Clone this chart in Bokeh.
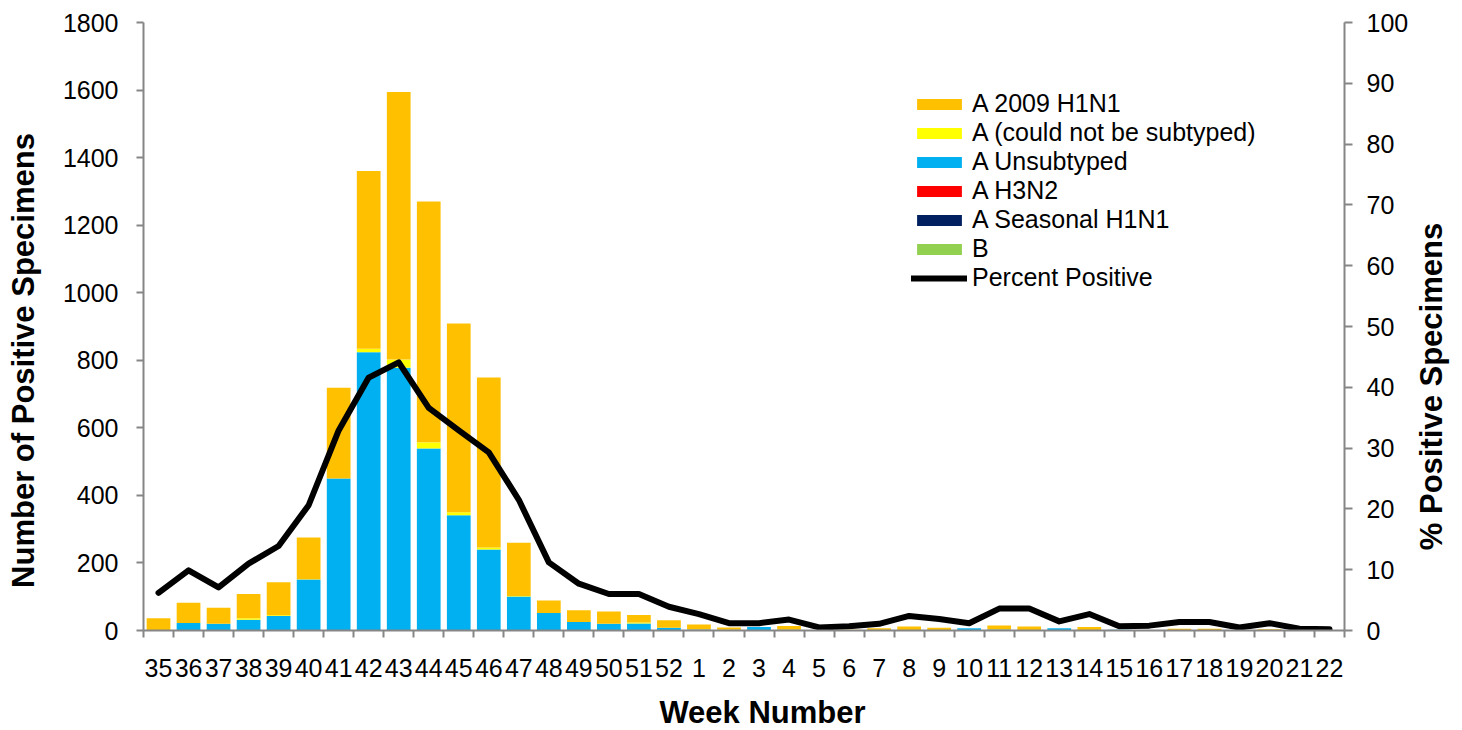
import math
from bokeh.plotting import figure
from bokeh.layouts import row, column
from bokeh.models import (Range1d, LinearAxis, FixedTicker, Legend, LegendItem,
                          Label, ColumnDataSource)
from bokeh.embed import file_html
from bokeh.resources import INLINE

weeks = ["35", "36", "37", "38", "39", "40", "41", "42", "43", "44", "45", "46",
         "47", "48", "49", "50", "51", "52", "1", "2", "3", "4", "5", "6", "7",
         "8", "9", "10", "11", "12", "13", "14", "15", "16", "17", "18", "19",
         "20", "21", "22"]

a_unsubtyped = [0, 22, 20, 32, 43, 151, 450, 824, 778, 539, 341, 240, 101, 52,
                25, 20, 21, 8, 3, 2, 10, 2, 0, 0, 0, 0, 0, 7, 3, 0, 7, 0, 2, 0,
                0, 0, 0, 0, 0, 0]
a_could_not = [0, 0, 0, 4, 2, 1, 0, 10, 24, 18, 9, 6, 1, 0, 0, 0, 3, 0, 0, 0,
               0, 0, 0, 0, 0, 0, 0, 0, 0, 0, 0, 0, 0, 0, 0, 0, 0, 0, 0, 0]
a_2009_h1n1 = [36, 60, 47, 72, 98, 123, 269, 526, 792, 713, 559, 503, 158, 37,
               35, 36, 22, 22, 15, 7, 0, 11, 0, 2, 7, 12, 8, 0, 12, 12, 0, 10,
               0, 0, 5, 5, 0, 4, 0, 0]
a_h3n2 = [0] * 40
a_seasonal_h1n1 = [0] * 40
b_flu = [0] * 40
pct_positive = [6.2, 9.9, 7.1, 11.0, 13.9, 20.6, 32.9, 41.6, 44.1, 36.6, 32.9,
                29.3, 21.5, 11.2, 7.7, 6.0, 6.0, 3.9, 2.7, 1.2, 1.2, 1.8, 0.5,
                0.7, 1.1, 2.4, 1.9, 1.2, 3.6, 3.6, 1.5, 2.7, 0.7, 0.8, 1.4, 1.4,
                0.5, 1.2, 0.3, 0.2]

left_ticks = [0, 200, 400, 600, 800, 1000, 1200, 1400, 1600, 1800]
right_ticks = [0, 10, 20, 30, 40, 50, 60, 70, 80, 90, 100]

FONT = "Liberation Sans"
AXIS_GRAY = "#868686"

# layout geometry (page pixels)
LEFT_W, RIGHT_W, BOTTOM_H = 50, 51, 43
MAIN_W = 1462 - LEFT_W - RIGHT_W
MAIN_H = 730 - BOTTOM_H

xs = list(range(1, len(weeks) + 1))
src = ColumnDataSource(dict(x=xs, unsub=a_unsubtyped, could=a_could_not,
                            h1n1=a_2009_h1n1, h3n2=a_h3n2,
                            seasonal=a_seasonal_h1n1, b=b_flu,
                            pct=pct_positive))

p = figure(width=MAIN_W, height=MAIN_H, output_backend="svg",
           toolbar_location=None,
           x_range=Range1d(0.5, len(weeks) + 0.5), y_range=Range1d(0, 1800),
           min_border_left=143 - LEFT_W, min_border_right=MAIN_W + LEFT_W - 1347,
           min_border_top=22, min_border_bottom=MAIN_H - 630)
p.outline_line_color = None
p.xgrid.visible = False
p.ygrid.visible = False
p.extra_y_ranges = {"pct": Range1d(0, 100)}

colors = {"unsub": "#00B0F0", "could": "#FFFF00", "h1n1": "#FFC000",
          "h3n2": "#FF0000", "seasonal": "#002060", "b": "#92D050"}
stackers = ["unsub", "could", "h1n1", "h3n2", "seasonal", "b"]
rs = p.vbar_stack(stackers, x="x", width=0.79, source=src,
                  fill_color=[colors[s] for s in stackers], line_color=None)
rmap = dict(zip(stackers, rs))

line = p.line("x", "pct", source=src, y_range_name="pct", line_color="black",
              line_width=6, line_join="round", line_cap="round")


def style_axis(ax):
    ax.axis_line_color = AXIS_GRAY
    ax.axis_line_width = 2
    ax.major_tick_line_color = AXIS_GRAY
    ax.major_tick_line_width = 2
    ax.minor_tick_line_color = AXIS_GRAY
    ax.minor_tick_line_width = 2
    ax.major_label_text_font = FONT
    ax.major_label_text_font_size = "25px"
    ax.major_label_text_color = "black"


yl = p.yaxis[0]
style_axis(yl)
yl.ticker = FixedTicker(ticks=left_ticks)
yl.major_tick_out = 7
yl.major_tick_in = 0
yl.minor_tick_out = 0
yl.minor_tick_in = 0
yl.major_label_standoff = 18

xa = p.xaxis[0]
style_axis(xa)
xa.ticker = FixedTicker(ticks=xs,
                        minor_ticks=[i + 0.5 for i in range(0, len(weeks) + 1)])
xa.major_label_overrides = {x: w for x, w in zip(xs, weeks)}
xa.major_tick_out = 0
xa.major_tick_in = 0
xa.minor_tick_out = 7
xa.minor_tick_in = 0
xa.major_label_standoff = 21

yr = LinearAxis(y_range_name="pct", ticker=FixedTicker(ticks=right_ticks))
style_axis(yr)
yr.major_tick_out = 8
yr.major_tick_in = 0
yr.minor_tick_out = 0
yr.minor_tick_in = 0
yr.major_label_standoff = 14
p.add_layout(yr, "right")

legend = Legend(items=[
    LegendItem(label="A 2009 H1N1", renderers=[rmap["h1n1"]]),
    LegendItem(label="A (could not be subtyped)", renderers=[rmap["could"]]),
    LegendItem(label="A Unsubtyped", renderers=[rmap["unsub"]]),
    LegendItem(label="A H3N2", renderers=[rmap["h3n2"]]),
    LegendItem(label="A Seasonal H1N1", renderers=[rmap["seasonal"]]),
    LegendItem(label="B", renderers=[rmap["b"]]),
    LegendItem(label="Percent Positive", renderers=[line]),
], location=(768, 338))
legend.glyph_width = 56
legend.glyph_height = 14
legend.label_standoff = 5
legend.label_height = 29
legend.spacing = 0
legend.padding = 0
legend.margin = 0
legend.border_line_color = None
legend.background_fill_alpha = 0
legend.label_text_font = FONT
legend.label_text_font_size = "25px"
legend.label_text_color = "black"
p.add_layout(legend, "center")


def title_fig(w, h, text, x, y, angle):
    f = figure(width=w, height=h, output_backend="svg", toolbar_location=None,
               x_range=Range1d(0, 1), y_range=Range1d(0, 1),
               x_axis_location=None, y_axis_location=None,
               min_border_left=0, min_border_right=0, min_border_top=0,
               min_border_bottom=0)
    f.outline_line_color = None
    for g in f.grid:
        g.visible = False
    f.add_layout(Label(x=x, y=y, x_units="screen", y_units="screen",
                       angle=angle, text=text, text_font=FONT,
                       text_font_size="31px", text_font_style="bold",
                       text_color="black", text_align="center",
                       text_baseline="middle"))
    return f


left_fig = title_fig(LEFT_W, MAIN_H, "Number of Positive Specimens",
                     23, MAIN_H - 361 - 56, math.pi / 2)
right_fig = title_fig(RIGHT_W, MAIN_H, "% Positive Specimens",
                      1431 - (1462 - RIGHT_W), MAIN_H - 385 - 58, math.pi / 2)
bottom_fig = title_fig(1462, BOTTOM_H, "Week Number",
                       762, BOTTOM_H - (712 - MAIN_H), 0)

layout = column(row(left_fig, p, right_fig, spacing=0), bottom_fig, spacing=0)

open("out.html", "w").write(file_html(layout, INLINE))
